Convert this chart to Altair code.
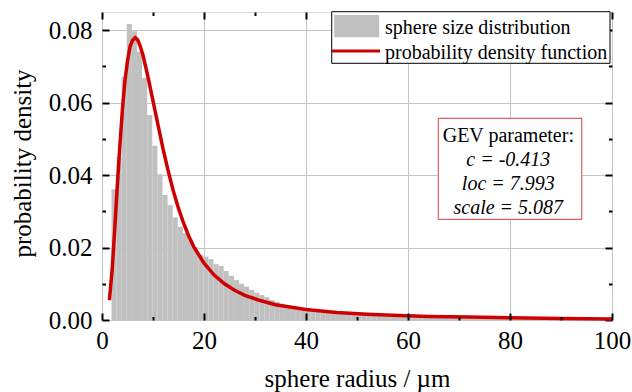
import altair as alt
import pandas as pd

FONT = "Liberation Serif"
GRID = "#c4c4c4"
BAR_COLOR = "#c0c0c0"
LINE_COLOR = "#d00000"
BOX_COLOR = "#e06060"

# ---- data ----
bin_start = 1.86          # left edge of the first histogram bin (µm)
bin_width = 1.0           # histogram bin width (µm)
hist_density = [
    0.0361, 0.0450, 0.0671, 0.0817, 0.0797, 0.0740, 0.0668, 0.0566, 0.0481, 0.0402,
    0.0345, 0.0317, 0.0283, 0.0257, 0.0240, 0.0220, 0.0201, 0.0180, 0.0175, 0.0168,
    0.0154, 0.0149, 0.0135, 0.0122, 0.0110, 0.0100, 0.0092, 0.0083, 0.0075, 0.0069,
    0.0063, 0.0055, 0.0050, 0.0045, 0.0039, 0.0036, 0.0034, 0.0032, 0.0030, 0.0028,
    0.0026, 0.0024, 0.0022, 0.0021, 0.0019, 0.0018, 0.0017, 0.0016, 0.0015, 0.0014,
    0.0013, 0.0012, 0.0012, 0.0011, 0.0010, 0.0010, 0.0009, 0.0009, 0.0008, 0.0008,
    0.0008, 0.0007, 0.0007, 0.0007, 0.0006, 0.0006, 0.0006, 0.0006, 0.0005, 0.0005,
    0.0005, 0.0005, 0.0005, 0.0004, 0.0004, 0.0004, 0.0004, 0.0004, 0.0004, 0.0003,
    0.0003, 0.0003, 0.0003, 0.0003, 0.0003, 0.0003, 0.0003, 0.0002, 0.0002, 0.0002,
    0.0002, 0.0002, 0.0002, 0.0002, 0.0002, 0.0002, 0.0002, 0.0002,
]

pdf_radius = [1.45, 2.0, 2.5, 3.0, 3.5, 4.0, 4.5, 5.0, 5.5, 6.0, 6.5, 7.0, 7.5, 8.0,
              9.0, 10.0, 11.0, 12.0, 13.0, 14.0, 15.0, 16.0, 17.0, 18.0, 20.0, 22.0,
              24.0, 26.0, 28.0, 30.5, 34.0, 40.0, 46.0, 52.0, 57.0, 64.0, 72.0, 80.0,
              90.0, 100.0]
pdf_density = [0.0055, 0.0140, 0.0250, 0.0370, 0.0480, 0.0580, 0.0660, 0.0715, 0.0755,
               0.0772, 0.0779, 0.0773, 0.0755, 0.0733, 0.0672, 0.0605, 0.0537, 0.0470,
               0.0410, 0.0355, 0.0308, 0.0267, 0.0232, 0.0202, 0.0157, 0.0124, 0.0100,
               0.0082, 0.0068, 0.0056, 0.0042, 0.0029, 0.0021, 0.0016, 0.0013, 0.0010,
               0.0008, 0.0006, 0.0004, 0.0003]

x_major = [0, 20, 40, 60, 80, 100]
x_minor = [10, 30, 50, 70, 90]
y_major = [0.0, 0.02, 0.04, 0.06, 0.08]
y_minor = [0.01, 0.03, 0.05, 0.07]

series_names = ["sphere size distribution", "probability density function"]

gev_title = "GEV parameter:"
gev_lines = ["c = -0.413", "loc = 7.993", "scale = 5.087"]

# ---- tables ----
hist_df = pd.DataFrame({
    "left": [bin_start + i * bin_width for i in range(len(hist_density))],
    "density": hist_density,
})
hist_df["right"] = hist_df["left"] + bin_width
pdf_df = pd.DataFrame({"radius": pdf_radius, "density": pdf_density})
one_row = pd.DataFrame({"gev": [gev_title], "s0": [series_names[0]], "s1": [series_names[1]]})

x_scale = alt.Scale(domain=[0, 100], nice=False, zero=False)
y_scale = alt.Scale(domain=[0, 0.085], nice=False, zero=False)


def tick_axis(orient, values, length, z):
    return alt.Axis(orient=orient, values=values, offset=-length, tickSize=length,
                    tickWidth=2, tickColor="black", labels=False, grid=False,
                    domain=False, title=None, zindex=z)


x_main = alt.Axis(orient="bottom", values=x_major, format="d", grid=True,
                  gridColor=GRID, gridWidth=1, ticks=False, domain=False,
                  labelFont=FONT, labelFontSize=25, labelColor="black",
                  labelPadding=8, labelFlush=False, labelOverlap=False,
                  title="sphere radius / µm", titleFont=FONT, titleFontSize=25,
                  titleFontWeight="normal", titleColor="black",
                  titleX=255, titleY=66, titleBaseline="alphabetic")
y_main = alt.Axis(orient="left", values=y_major, format=".2f", grid=True,
                  gridColor=GRID, gridWidth=1, ticks=False, domain=False,
                  labelFont=FONT, labelFontSize=25, labelColor="black",
                  labelPadding=10, labelFlush=False, labelOverlap=False,
                  title="probability density", titleFont=FONT, titleFontSize=25,
                  titleFontWeight="normal", titleColor="black", titleAngle=270,
                  titleX=-72, titleY=151, titleBaseline="alphabetic",
                  titleAlign="center")

bars = alt.Chart(hist_df).mark_rect(color=BAR_COLOR, strokeWidth=0).encode(
    x=alt.X("left:Q", scale=x_scale, axis=x_main),
    x2="right:Q",
    y=alt.Y("density:Q", scale=y_scale, axis=y_main),
    y2=alt.datum(0),
)

line = alt.Chart(pdf_df).mark_line(color=LINE_COLOR, strokeWidth=3.5).encode(
    x=alt.X("radius:Q", scale=x_scale, axis=tick_axis("bottom", x_major, 7, 2)),
    y=alt.Y("density:Q", scale=y_scale, axis=tick_axis("left", y_major, 7, 2)),
)


def ghost(xa, ya):
    return alt.Chart(pdf_df).mark_point(opacity=0, size=1).encode(
        x=alt.X("radius:Q", scale=x_scale, axis=xa),
        y=alt.Y("density:Q", scale=y_scale, axis=ya),
    )


g1 = ghost(tick_axis("bottom", x_minor, 3.5, 2), tick_axis("left", y_minor, 3.5, 2))
g2 = ghost(tick_axis("top", x_major, 7, 0), tick_axis("right", y_major, 7, 0))
g3 = ghost(tick_axis("top", x_minor, 3.5, 0), tick_axis("right", y_minor, 3.5, 0))


def at(x, y, x2=None, y2=None):
    enc = dict(x=alt.datum(x, scale=x_scale, axis=None),
               y=alt.datum(y, scale=y_scale, axis=None))
    if x2 is not None:
        enc["x2"] = alt.datum(x2)
    if y2 is not None:
        enc["y2"] = alt.datum(y2)
    return enc


base = alt.Chart(one_row)

# legend (top right, drawn in data coordinates)
leg_box = base.mark_rect(fill="white", stroke="black", strokeWidth=1).encode(
    **at(45.04, 0.08508, 99.61, 0.07084))
leg_swatch = base.mark_rect(fill=BAR_COLOR, strokeWidth=0).encode(
    **at(45.53, 0.08417, 54.35, 0.07802))
leg_line = base.mark_rule(color=LINE_COLOR, strokeWidth=3).encode(
    **at(45.10, 0.07424, 54.51))
leg_text0 = base.mark_text(font=FONT, fontSize=20, color="black", align="left",
                           baseline="alphabetic").encode(text="s0:N", **at(55.49, 0.07885))
leg_text1 = base.mark_text(font=FONT, fontSize=20, color="black", align="left",
                           baseline="alphabetic").encode(text="s1:N", **at(55.49, 0.07195))

# GEV parameter box
box = base.mark_rect(fill="white", stroke=BOX_COLOR, strokeWidth=1.2).encode(
    **at(65.94, 0.05566, 94.06, 0.02779))
box_title = base.mark_text(font=FONT, fontSize=20, color="black",
                           baseline="alphabetic", align="center").encode(
    text="gev:N", **at(79.67, 0.04921))
box_lines = base.mark_text(font=FONT, fontSize=20, fontStyle="italic",
                           color="black", baseline="alphabetic",
                           align="center", lineHeight=24).encode(
    text=alt.value(gev_lines), **at(79.67, 0.04250))

chart = alt.layer(
    bars, line, g1, g2, g3, box, box_title, box_lines,
    leg_box, leg_swatch, leg_line, leg_text0, leg_text1,
).resolve_axis(
    x="independent", y="independent"
).properties(
    width=510, height=308,
    autosize=alt.AutoSizeParams(type="none"),
    padding={"left": 102, "top": 12, "right": 20, "bottom": 72},
).configure_view(stroke="black", strokeWidth=2).configure(background="white")

chart.save("out.html", embed_options={"renderer": "svg", "actions": False})
